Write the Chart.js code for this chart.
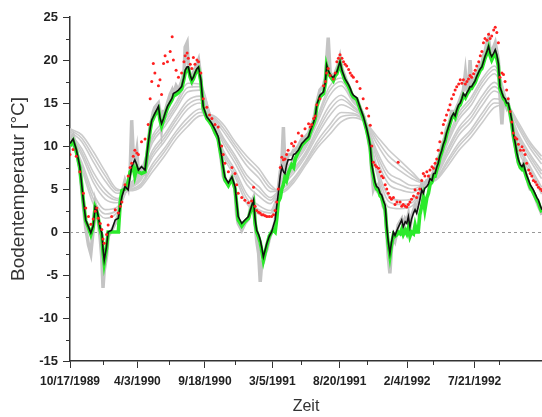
<!DOCTYPE html>
<html>
<head>
<meta charset="utf-8">
<script src="https://cdn.jsdelivr.net/npm/chart.js@4.4.1/dist/chart.umd.min.js"></script>
<style>
  html, body { margin: 0; padding: 0; background: #fff; overflow: hidden; }
  #chart { display: block; }
</style>
</head>
<body>
<canvas id="chart" width="542" height="417"></canvas>
<script>
// Days since 10/17/1989
const days = [
  0, 8, 16, 25, 34, 40, 47, 53, 59, 64,
  68, 72, 77, 81, 84, 87, 93, 97, 106, 115,
  123, 128, 132, 140, 148, 153, 157, 161, 165, 170,
  174, 182, 191, 199, 204, 208, 212, 216, 225, 229,
  233, 238, 242, 248, 255, 260, 263, 270, 276, 284,
  290, 293, 298, 301, 306, 310, 314, 318, 323, 327,
  333, 339, 348, 355, 361, 369, 377, 386, 390, 394,
  403, 412, 420, 424, 428, 437, 445, 454, 462, 467,
  471, 475, 480, 484, 488, 492, 497, 501, 507, 513,
  518, 522, 526, 530, 535, 539, 543, 547, 551, 555,
  564, 569, 573, 581, 590, 598, 607, 611, 615, 620,
  624, 628, 636, 645, 650, 653, 657, 662, 670, 675,
  679, 683, 687, 692, 696, 700, 704, 709, 713, 717,
  721, 730, 738, 746, 755, 760, 764, 768, 772, 776,
  780, 785, 789, 793, 797, 802, 806, 810, 814, 818,
  823, 827, 832, 835, 840, 844, 848, 853, 857, 861,
  865, 869, 874, 878, 882, 886, 890, 895, 899, 903,
  908, 912, 916, 921, 925, 929, 933, 937, 941, 946,
  950, 954, 958, 963, 967, 971, 976, 980, 984, 989,
  993, 997, 1001, 1006, 1010, 1014, 1018, 1022, 1027, 1031,
  1035, 1040, 1044, 1048, 1052, 1056, 1061, 1065, 1069, 1073,
  1078, 1082, 1086, 1090, 1094, 1099, 1103, 1107, 1111, 1115,
  1120, 1124, 1128, 1133, 1137, 1141, 1146, 1150, 1154, 1158,
  1162, 1167, 1171, 1175, 1179, 1184, 1188, 1192, 1197, 1201
];

// measured (black)
const blackVals = [
  10.3, 10.8, 9.6, 7.6, 3.7, 1.4, 0.6, -0.1, 0.7, 2.9,
  2.6, 1.8, 0.4, -0.1, -2.0, -3.3, -1.7, 0.0, 0.2, 1.4,
  1.6, 3.0, 4.1, 5.3, 4.9, 6.5, 7.6, 8.0, 8.4, 7.8,
  7.2, 7.6, 7.2, 10.3, 12.0, 13.0, 13.4, 13.8, 14.6, 13.3,
  12.6, 13.2, 13.8, 14.6, 15.2, 15.6, 16.1, 16.3, 16.5, 16.9,
  18.0, 18.8, 19.2, 19.2, 18.2, 17.7, 18.0, 18.5, 19.0, 19.2,
  17.7, 14.6, 13.4, 13.0, 12.6, 11.9, 11.1, 8.8, 7.5, 6.4,
  5.7, 6.4, 5.3, 3.5, 1.8, 1.0, 1.4, 1.8, 3.0, 3.7,
  1.5, 0.2, -0.3, -0.9, -1.8, -2.9, -2.0, -1.3, -0.5, 0.0,
  0.8, 1.4, 3.0, 4.5, 6.5, 7.6, 7.0, 6.8, 7.8, 8.4,
  8.4, 9.0, 9.1, 9.5, 10.3, 10.7, 11.1, 11.7, 12.2, 12.8,
  13.4, 14.8, 15.9, 16.3, 17.5, 19.4, 18.8, 18.3, 17.9, 18.4,
  18.6, 19.2, 19.8, 18.8, 18.3, 17.8, 17.5, 17.1, 16.7, 16.2,
  15.9, 15.6, 14.5, 13.5, 12.0, 11.0, 10.0, 7.8, 6.8, 5.8,
  5.3, 5.1, 4.5, 4.3, 3.7, 3.1, 0.6, -1.2, -2.5, -1.2,
  0.0, -0.4, 0.2, 0.5, 1.0, 1.4, 0.6, 1.2, 1.0, 1.8,
  0.6, 1.5, 2.2, 2.6, 2.2, 2.9, 3.7, 4.9, 4.5, 5.1,
  5.3, 5.6, 6.2, 6.0, 6.8, 6.8, 7.5, 8.0, 8.8, 9.5,
  10.2, 10.7, 11.5, 12.2, 12.8, 13.4, 13.8, 13.5, 14.2, 14.8,
  15.0, 15.5, 16.1, 15.8, 16.2, 16.5, 16.9, 16.9, 17.3, 17.6,
  18.1, 18.6, 19.0, 19.2, 19.8, 20.4, 21.0, 21.6, 20.8, 20.4,
  20.8, 21.2, 20.6, 19.6, 16.9, 16.2, 15.7, 15.5, 15.0, 15.0,
  14.0, 13.0, 11.5, 10.3, 9.2, 8.4, 7.8, 7.6, 7.9, 7.2,
  6.6, 6.0, 5.5, 5.2, 4.9, 4.4, 4.0, 3.7, 3.0, 2.6
];

// green series
const greenVals = [
  10.0, 10.6, 9.4, 7.5, 3.6, 1.3, 0.5, -0.3, 0.6, 2.9,
  2.5, 1.6, 0.2, -0.4, -2.3, -3.6, -1.9, 0.0, 0.0, 0.0,
  0.0, 3.5, 4.8, 5.0, 5.8, 7.0, 7.2, 7.5, 6.5, 7.5,
  7.0, 6.8, 7.0, 10.2, 11.8, 12.8, 13.2, 13.6, 14.3, 13.0,
  12.3, 13.0, 13.6, 14.4, 15.0, 15.4, 15.8, 16.0, 16.2, 16.6,
  17.8, 18.5, 19.0, 19.0, 18.0, 17.5, 17.8, 18.3, 18.8, 19.0,
  17.5, 14.4, 13.2, 12.8, 12.4, 11.6, 10.8, 8.5, 7.3, 6.1,
  5.4, 6.2, 5.0, 3.2, 1.4, 0.7, 1.2, 1.6, 2.8, 3.4,
  1.0, 0.0, -0.6, -1.2, -2.2, -3.3, -2.3, -1.5, -0.5, 0.0,
  0.2, 0.0, 1.5, 3.5, 4.0, 5.0, 5.5, 6.4, 6.0, 6.8,
  7.8, 7.5, 8.5, 9.3, 10.1, 10.5, 10.9, 11.5, 12.0, 12.6,
  13.2, 14.6, 15.7, 16.1, 17.3, 19.3, 18.6, 18.1, 17.6, 18.2,
  18.4, 19.0, 19.6, 18.6, 18.1, 17.6, 17.3, 16.9, 16.5, 16.0,
  15.7, 15.4, 14.3, 13.3, 11.8, 10.8, 9.8, 7.5, 6.5, 5.5,
  5.0, 4.8, 4.2, 4.0, 3.4, 2.6, 0.2, -1.5, -2.8, -1.5,
  -0.3, -0.5, -0.3, 0.0, -0.2, 0.3, -0.3, 0.2, -0.2, 0.5,
  -0.5, 0.0, -0.2, 0.8, 0.0, 0.0, 2.0, 3.0, 4.0, 2.6,
  4.0, 4.5, 5.5, 5.8, 6.5, 6.5, 7.2, 7.8, 8.6, 9.3,
  10.0, 10.5, 11.3, 12.0, 12.6, 13.2, 13.6, 13.3, 14.0, 14.6,
  14.8, 15.3, 15.9, 15.6, 16.0, 16.3, 16.7, 16.7, 17.1, 17.4,
  17.9, 18.4, 18.8, 19.0, 19.6, 20.2, 20.8, 21.4, 20.5, 20.0,
  20.5, 20.8, 20.2, 19.3, 16.7, 16.0, 15.5, 15.3, 14.8, 14.8,
  13.8, 12.7, 11.3, 10.0, 9.0, 8.1, 7.5, 7.3, 7.6, 6.9,
  6.3, 5.7, 5.2, 4.9, 4.6, 4.1, 3.7, 3.4, 2.7, 2.3
];

// red points
const redVals = [
  9.0, 9.6, 8.8, 7.0, 4.5, 2.8, 1.8, 0.9, 1.5, 2.4,
  2.8, 1.6, 1.0, 0.3, -0.8, -1.3, -0.3, 0.8, 1.8, 2.6,
  2.2, 3.0, 3.5, 5.5, 6.5, 7.5, 8.0, 8.8, 9.5, 9.2,
  9.0, 10.5, 10.8, 12.5, 15.5, 17.5, 19.6, 18.5, 17.0, 17.7,
  16.0, 19.6, 20.5, 19.8, 21.0, 22.7, 20.0, 18.8, 18.0, 18.5,
  19.8, 20.5, 20.8, 20.2, 19.5, 19.0, 20.3, 19.5, 20.0, 19.8,
  18.5, 15.5, 14.5, 13.6, 13.2, 12.5, 12.2, 10.0, 9.0, 8.0,
  7.0, 7.5, 6.8, 5.5, 4.5, 4.0, 3.7, 3.4, 3.6, 5.2,
  3.0, 2.5, 2.3, 2.2, 2.0, 2.0, 1.9, 1.8, 1.8, 1.8,
  2.0, 2.5, 3.5, 5.0, 7.5, 8.7, 8.4, 8.5, 9.0, 9.5,
  10.3, 10.0, 10.5, 11.5, 11.2, 12.0, 12.6, 12.2, 12.5, 13.2,
  13.5, 14.8, 15.5, 17.0, 17.5, 18.5, 19.0, 18.2, 17.8, 18.5,
  19.8, 20.2, 20.6, 20.2, 19.8, 19.5, 19.3, 18.9, 18.5, 18.2,
  18.0, 17.5, 16.7, 15.5, 14.4, 13.5, 12.4, 10.0, 8.1, 7.8,
  7.6, 7.4, 7.0, 6.5, 6.3, 5.5, 5.0, 4.5, 4.0, 3.8,
  4.0, 3.2, 3.5, 8.1, 3.5, 3.0, 3.2, 3.0, 2.9, 3.2,
  3.5, 3.8, 4.2, 4.9, 4.0, 4.5, 5.0, 6.0, 6.8, 6.5,
  7.0, 6.5, 7.2, 7.6, 7.4, 8.0, 8.5, 9.5, 10.5, 11.5,
  12.5, 13.0, 13.6, 14.2, 14.8, 15.5, 16.0, 16.5, 16.9, 17.2,
  17.7, 17.3, 17.7, 17.2, 17.5, 17.8, 18.2, 18.0, 18.4, 18.8,
  19.3, 19.8, 20.5, 21.0, 22.0, 22.5, 22.3, 23.0, 22.5, 22.8,
  23.5, 23.8, 23.2, 22.0, 18.0, 18.5, 18.3, 17.5, 16.5, 15.5,
  14.0, 12.8, 11.5, 11.0, 10.8, 10.2, 9.5, 9.9, 9.5, 9.0,
  8.0, 7.2, 6.8, 6.5, 6.0, 5.8, 5.5, 5.2, 5.0, 4.8
];

// spiky gray band
const spikeVals = [
  10.6, 11.2, 9.8, 7.2, 3.0, 0.5, -1.5, -2.5, 0.2, 3.2,
  2.2, 1.2, -0.8, -3.0, -6.5, -4.5, -2.8, -0.5, 0.2, 1.0,
  2.0, 3.6, 4.5, 6.0, 5.0, 7.0, 13.0, 9.0, 8.0, 9.5,
  7.0, 7.5, 6.8, 10.0, 12.5, 13.0, 14.0, 14.5, 15.0, 14.0,
  12.0, 14.0, 14.0, 15.0, 16.0, 16.5, 16.0, 17.0, 16.5, 17.5,
  18.5, 21.5, 22.0, 19.5, 18.0, 17.5, 18.5, 19.0, 19.5, 20.0,
  18.0, 14.0, 13.5, 13.0, 12.5, 11.5, 11.0, 8.0, 6.5, 6.0,
  5.5, 6.5, 5.0, 2.0, 1.0, 0.2, 1.0, 1.5, 3.5, 4.0,
  1.0, -1.0, -2.5, -5.8, -3.5, -3.5, -2.5, -2.0, -0.8, 0.0,
  0.6, 1.2, 3.0, 5.0, 7.0, 8.0, 12.2, 7.5, 8.0, 9.0,
  9.0, 9.5, 9.5, 10.0, 10.8, 11.0, 11.5, 12.0, 12.5, 13.0,
  14.0, 15.0, 16.5, 17.0, 18.0, 20.0, 22.6, 18.5, 18.0, 18.5,
  19.0, 19.5, 20.3, 19.0, 18.5, 18.0, 17.5, 17.0, 16.5, 16.0,
  15.5, 15.5, 14.5, 13.5, 12.0, 10.5, 9.5, 7.0, 5.0, 5.5,
  5.0, 5.5, 4.5, 4.0, 3.0, 2.5, 0.0, -3.0, -4.8, -2.0,
  -0.5, -1.0, 0.0, 0.8, 1.2, 1.5, 0.5, 1.5, 1.2, 2.0,
  0.5, 1.8, 2.5, 3.0, 2.5, 3.5, 4.0, 5.5, 5.0, 5.5,
  6.0, 6.0, 6.5, 6.5, 7.0, 7.5, 8.0, 8.5, 9.0, 10.0,
  10.5, 11.0, 12.0, 12.5, 13.0, 14.0, 14.0, 14.0, 14.5, 15.0,
  15.5, 16.0, 16.5, 18.5, 16.5, 16.5, 20.0, 17.0, 17.5, 18.0,
  18.5, 19.0, 19.5, 19.5, 20.5, 21.0, 22.0, 22.5, 21.0, 21.0,
  21.5, 22.0, 21.0, 20.0, 16.0, 12.5, 15.5, 15.0, 14.5, 15.0,
  13.5, 12.5, 11.0, 10.0, 9.0, 8.0, 7.5, 7.5, 8.0, 7.0,
  6.5, 5.5, 5.0, 5.0, 4.5, 4.0, 3.5, 3.0, 2.5, 2.0
];

// deeper layers (gray), sampled monthly
const grayDays = [
  0, 30, 60, 90, 120, 150, 180, 210, 240, 270,
  300, 330, 360, 390, 420, 450, 480, 510, 540, 570,
  600, 630, 660, 690, 720, 750, 780, 810, 840, 870,
  900, 930, 960, 990, 1020, 1050, 1080, 1110, 1140, 1170, 1200
];
const gray1 = [10.8, 7.3, 3.2, 1.6, 2.3, 5.4, 7.1, 11.2, 13.0, 15.1, 17.3, 17.2, 13.1, 8.8, 6.4, 3.3, 2.1, 1.8, 6.6, 8.5, 10.3, 13.5, 16.9, 17.9, 15.5, 13.4, 6.9, 2.9, 2.7, 3.0, 5.1, 6.7, 10.8, 13.9, 15.6, 17.9, 19.3, 15.4, 9.6, 7.0, 4.4];
const gray2 = [10.9, 7.7, 3.8, 2.1, 2.6, 5.4, 6.9, 10.8, 12.6, 14.7, 16.8, 16.9, 13.2, 9.2, 6.8, 3.9, 2.6, 2.2, 6.4, 8.2, 10.1, 13.2, 16.4, 17.5, 15.3, 13.4, 7.3, 3.6, 3.2, 3.4, 5.2, 6.6, 10.5, 13.5, 15.2, 17.5, 18.9, 15.4, 10.0, 7.4, 4.8];
const gray3 = [11.0, 8.1, 4.4, 2.6, 2.9, 5.3, 6.7, 10.4, 12.2, 14.3, 16.3, 16.5, 13.2, 9.5, 7.2, 4.4, 3.1, 2.5, 6.2, 7.9, 9.8, 12.8, 15.8, 17.0, 15.1, 13.3, 7.7, 4.2, 3.7, 3.8, 5.3, 6.5, 10.2, 13.1, 14.7, 17.0, 18.4, 15.3, 10.3, 7.7, 5.2];
const gray4 = [11.3, 8.9, 5.7, 3.8, 3.4, 5.2, 6.4, 9.5, 11.3, 13.4, 15.3, 15.8, 13.3, 10.3, 8.0, 5.5, 4.2, 3.3, 5.8, 7.4, 9.3, 12.1, 14.7, 15.9, 14.7, 13.2, 8.6, 5.6, 4.9, 4.6, 5.4, 6.4, 9.6, 12.2, 13.8, 15.9, 17.4, 15.2, 10.9, 8.4, 6.2];
const gray5 = [11.4, 9.3, 6.3, 4.4, 3.7, 5.1, 6.2, 9.1, 10.9, 13.0, 14.8, 15.4, 13.4, 10.7, 8.5, 6.1, 4.8, 3.7, 5.6, 7.2, 9.1, 11.7, 14.1, 15.4, 14.5, 13.1, 9.1, 6.3, 5.5, 5.0, 5.5, 6.4, 9.3, 11.8, 13.3, 15.4, 16.9, 15.1, 11.2, 8.8, 6.7];
const gray6 = [11.5, 9.7, 6.9, 4.9, 3.9, 5.0, 6.0, 8.7, 10.5, 12.5, 14.3, 15.0, 13.4, 11.0, 8.9, 6.6, 5.3, 4.0, 5.4, 6.9, 8.8, 11.3, 13.5, 14.8, 14.2, 13.0, 9.5, 6.9, 6.1, 5.4, 5.5, 6.3, 8.9, 11.3, 12.8, 14.8, 16.4, 15.0, 11.5, 9.1, 7.1];
const gray7 = [11.7, 10.5, 8.1, 5.9, 4.5, 4.9, 5.6, 7.9, 9.7, 11.7, 13.3, 14.3, 13.5, 11.7, 9.7, 7.7, 6.3, 4.7, 5.0, 6.3, 8.3, 10.6, 12.4, 13.9, 13.8, 12.9, 10.3, 8.2, 7.1, 6.2, 5.7, 6.1, 8.3, 10.4, 11.9, 13.9, 15.5, 14.9, 12.2, 9.8, 7.9];
const gray8 = [11.9, 10.9, 8.7, 6.5, 4.8, 4.9, 5.4, 7.5, 9.3, 11.3, 12.8, 13.9, 13.6, 12.1, 10.1, 8.3, 6.9, 5.1, 4.8, 6.1, 8.1, 10.2, 11.9, 13.4, 13.6, 12.9, 10.8, 8.9, 7.7, 6.6, 5.8, 6.1, 8.0, 10.0, 11.5, 13.4, 15.0, 14.9, 12.5, 10.2, 8.4];
const gray9 = [12.0, 11.3, 9.3, 7.0, 5.0, 4.8, 5.2, 7.0, 8.8, 10.8, 12.3, 13.5, 13.6, 12.5, 10.5, 8.8, 7.4, 5.5, 4.6, 5.8, 7.8, 9.8, 11.3, 12.8, 13.3, 12.8, 11.2, 9.6, 8.3, 7.0, 5.8, 6.0, 7.6, 9.5, 11.0, 12.8, 14.5, 14.8, 12.8, 10.5, 8.8];
const grayLines = [gray1, gray2, gray3, gray4, gray5, gray6, gray7, gray8, gray9];

// axis
const tickLabels = ['10/17/1989', '4/3/1990', '9/18/1990', '3/5/1991', '8/20/1991', '2/4/1992', '7/21/1992'];
const xStep = 168;
const xMax = 1201;
const yMin = -15, yMax = 25, yStep = 5;

function pts(xs, ys) {
    return xs.map((d, i) => ({ x: d, y: ys[i] }));
}

const axisExtras = {
    id: 'axisExtras',
    beforeDatasetsDraw(chart) {
        const { ctx, chartArea, scales: { y } } = chart;
        const py = Math.round(y.getPixelForValue(0)) + 0.5;
        ctx.save();
        ctx.strokeStyle = '#999';
        ctx.lineWidth = 1;
        ctx.setLineDash([3, 3]);
        ctx.beginPath();
        ctx.moveTo(chartArea.left, py);
        ctx.lineTo(chartArea.right, py);
        ctx.stroke();
        ctx.restore();
    },
    afterDraw(chart) {
        // minor ticks
        const { ctx, chartArea, scales: { x, y } } = chart;
        ctx.save();
        ctx.strokeStyle = '#333';
        ctx.lineWidth = 1;
        ctx.beginPath();
        for (let v = xStep / 2; v <= x.max; v += xStep) {
            const px = Math.round(x.getPixelForValue(v)) + 0.5;
            ctx.moveTo(px, chartArea.bottom);
            ctx.lineTo(px, chartArea.bottom + 4);
        }
        for (let v = yMin + yStep / 2; v < yMax; v += yStep) {
            const py = Math.round(y.getPixelForValue(v)) + 0.5;
            ctx.moveTo(chartArea.left, py);
            ctx.lineTo(chartArea.left - 4, py);
        }
        ctx.stroke();
        ctx.restore();
    }
};

const datasets = [
    { data: pts(days, redVals), showLine: false, pointRadius: 1.5, pointBackgroundColor: '#ff1f1f', pointBorderWidth: 0 },
    { data: pts(days, blackVals), borderColor: '#111', borderWidth: 1.6, pointRadius: 0 },
    { data: pts(days, greenVals), borderColor: '#2bea2b', borderWidth: 3.6, pointRadius: 0 },
    { data: pts(days, spikeVals), borderColor: '#c4c4c4', borderWidth: 3.5, pointRadius: 0 }
];
grayLines.forEach(g => {
    datasets.push({ data: pts(grayDays, g), borderColor: '#cbcbcb', borderWidth: 1.6, pointRadius: 0, cubicInterpolationMode: 'monotone' });
});

const tickFont = { family: 'Liberation Sans, Arial, sans-serif', size: 12, weight: 'bold' };

new Chart(document.getElementById('chart'), {
    type: 'line',
    data: { datasets },
    options: {
        responsive: false,
        animation: false,
        events: [],
        layout: { autoPadding: false, padding: { top: 17, right: 0, left: 0, bottom: 0 } },
        plugins: { legend: { display: false }, tooltip: { enabled: false } },
        scales: {
            x: {
                type: 'linear',
                min: 0,
                max: xMax,
                afterFit(scale) {
                    scale.height = 56;
                    scale.paddingRight = 0;
                },
                border: { color: '#333', width: 1.5 },
                grid: { drawOnChartArea: false, color: '#333', tickLength: 7, tickWidth: 1 },
                ticks: {
                    stepSize: xStep,
                    includeBounds: false,
                    autoSkip: false,
                    maxRotation: 0,
                    padding: 6,
                    color: '#222',
                    font: tickFont,
                    callback: v => tickLabels[Math.round(v / xStep)] || ''
                },
                title: {
                    display: true,
                    text: 'Zeit',
                    color: '#333',
                    font: { family: 'Liberation Sans, Arial, sans-serif', size: 16 },
                    padding: { top: 0, bottom: 1 }
                }
            },
            y: {
                min: yMin,
                max: yMax,
                afterFit(scale) { scale.width = 70; },
                border: { color: '#333', width: 1.5 },
                grid: { drawOnChartArea: false, color: '#333', tickLength: 7, tickWidth: 1 },
                ticks: {
                    stepSize: yStep,
                    padding: 5,
                    color: '#222',
                    font: { family: 'Liberation Sans, Arial, sans-serif', size: 13, weight: 'bold' }
                },
                title: {
                    display: true,
                    text: 'Bodentemperatur [°C]',
                    color: '#333',
                    font: { family: 'Liberation Sans, Arial, sans-serif', size: 19 },
                    padding: { top: 7, bottom: 0 }
                }
            }
        }
    },
    plugins: [axisExtras]
});
</script>
</body>
</html>
